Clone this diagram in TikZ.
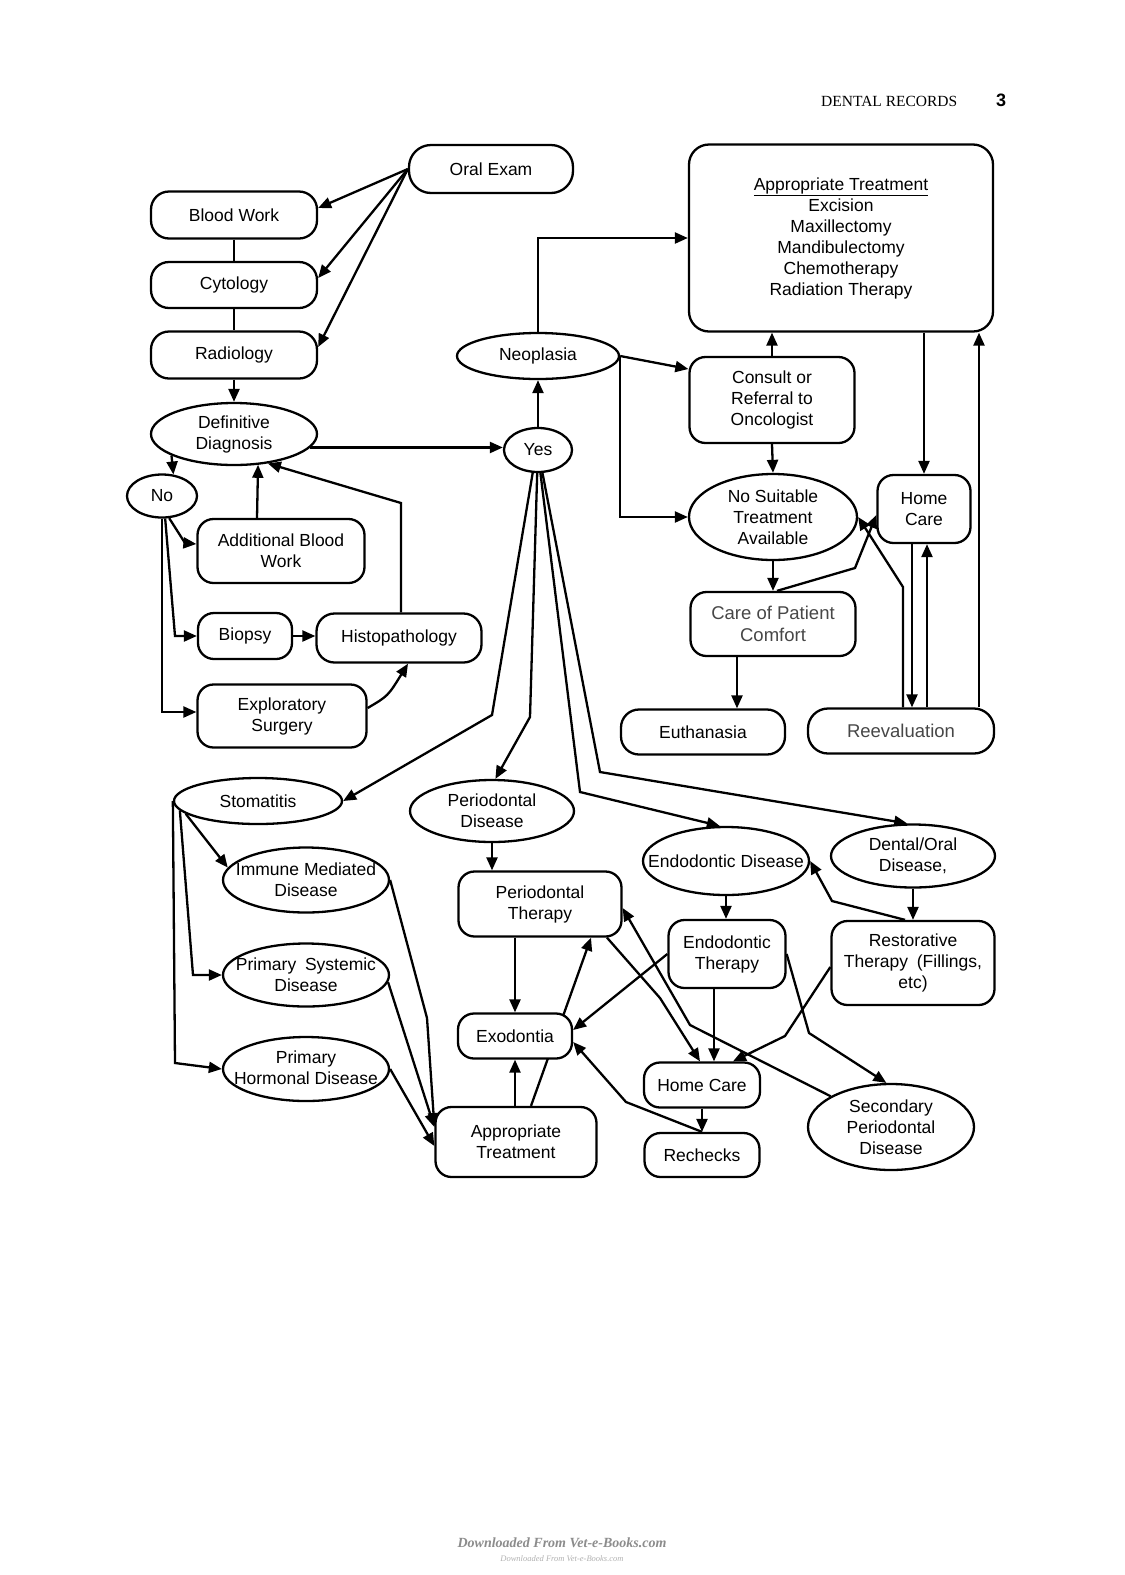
\documentclass[tikz,border=0pt]{standalone}
\usepackage{fontspec}
\setmainfont{Liberation Sans}
\newfontfamily\serifhdr{Liberation Serif}
\usetikzlibrary{arrows.meta,shapes.geometric,calc}
\pgfdeclarelayer{bg}
\pgfsetlayers{bg,main}
\newcommand\nfont{\fontsize{17.5}{21}\selectfont}
\newcommand\gfont{\fontsize{18.5}{22}\selectfont}
\begin{document}
\begin{tikzpicture}[x=1pt,y=-1pt,
  box/.style={draw, line width=2.3pt, rounded corners=16pt, fill=white, align=center, font=\nfont, inner sep=0pt},
  ell/.style={draw, ellipse, line width=2.3pt, fill=white, inner sep=0pt},
  txt/.style={align=center, font=\nfont, inner sep=0pt},
  gtxt/.style={text=black!72},
  arr/.style={line width=2.3pt, -{Triangle[length=13pt,width=11pt]}},
  ln/.style={line width=2.3pt}]
\useasboundingbox (0,0) rectangle (1125,1575);
\begin{pgfonlayer}{bg}
\fill[white] (0,0) rectangle (1125,1575);
\end{pgfonlayer}

% header
\node[anchor=base west, font=\serifhdr\fontsize{15.5}{18}\selectfont, inner sep=0pt] (hdr) at (821,106) {DENTAL RECORDS};
\node[anchor=base west, font=\bfseries\fontsize{18}{20}\selectfont, inner sep=0pt] (pg) at (996,106) {3};

% left column
\node[box, minimum width=164pt, minimum height=48pt, rounded corners=22pt] (oral) at (491,169) {Oral Exam};
\node[box, minimum width=166pt, minimum height=47pt, rounded corners=18pt] (blood) at (234,215) {Blood Work};
\node[box, minimum width=166pt, minimum height=46pt, rounded corners=18pt] (cyto) at (234,285) {Cytology};
\node[box, minimum width=166pt, minimum height=47pt, rounded corners=18pt] (radio) at (234,355) {Radiology};
\node[ell, minimum width=166pt, minimum height=62pt] (dd) at (234,434) {};
\node[txt] (ddT) at (dd) {Definitive\\Diagnosis};
\node[ell, minimum width=70pt, minimum height=43pt] (no) at (162,496) {};
\node[txt] (noT) at (no) {No};
\node[box, minimum width=167pt, minimum height=64pt] (abw) at (281,551) {Additional Blood\\Work};
\node[box, minimum width=94pt, minimum height=46pt] (biopsy) at (245,636) {Biopsy};
\node[box, minimum width=165pt, minimum height=49pt, rounded corners=18pt] (histo) at (399,638) {Histopathology};
\node[box, minimum width=169pt, minimum height=63pt] (explo) at (282,716) {Exploratory\\Surgery};

% center / right top
\node[ell, minimum width=68pt, minimum height=44pt] (yes) at (538,450) {};
\node[txt] (yesT) at (yes) {Yes};
\node[ell, minimum width=162pt, minimum height=46pt] (neo) at (538,356) {};
\node[txt] (neoT) at (neo) {Neoplasia};
\node[box, minimum width=304pt, minimum height=187pt, rounded corners=20pt] (apt) at (841,238) {\underline{Appropriate Treatment}\\Excision\\Maxillectomy\\Mandibulectomy\\Chemotherapy\\Radiation Therapy};
\node[box, minimum width=165pt, minimum height=86pt] (consult) at (772,400) {Consult or\\Referral to\\Oncologist};
\node[ell, minimum width=168pt, minimum height=86pt] (nosuit) at (773,517) {};
\node[txt] (nosuitT) at (nosuit) {No Suitable\\Treatment\\Available};
\node[box, minimum width=93pt, minimum height=68pt] (homec) at (924,509) {Home\\Care};
\node[box, minimum width=165pt, minimum height=64pt, font=\gfont, gtxt] (care) at (773,624) {Care of Patient\\Comfort};
\node[box, minimum width=164pt, minimum height=45pt, rounded corners=18pt] (euth) at (703,732) {Euthanasia};
\node[box, minimum width=186pt, minimum height=45pt, rounded corners=20pt, font=\gfont, gtxt] (reeval) at (901,731) {Reevaluation};

% lower left
\node[ell, minimum width=168pt, minimum height=46pt] (stoma) at (258,801) {};
\node[txt] (stomaT) at (stoma) {Stomatitis};
\node[ell, minimum width=166pt, minimum height=65pt] (imd) at (306,880) {};
\node[txt] (imdT) at (imd) {Immune Mediated\\Disease};
\node[ell, minimum width=166pt, minimum height=63pt] (psd) at (306,975) {};
\node[txt] (psdT) at (psd) {Primary\enspace Systemic\\Disease};
\node[ell, minimum width=166pt, minimum height=64pt] (phd) at (306,1069) {};
\node[txt] (phdT) at ([yshift=1pt]phd) {Primary\\Hormonal Disease};

% lower center / right
\node[ell, minimum width=164pt, minimum height=62pt] (pd) at (492,811) {};
\node[txt] (pdT) at (pd) {Periodontal\\Disease};
\node[box, minimum width=163pt, minimum height=65pt] (pt) at (540,904) {Periodontal\\Therapy};
\node[box, minimum width=114pt, minimum height=45pt] (exo) at (515,1036) {Exodontia};
\node[box, minimum width=161pt, minimum height=70pt] (at) at (516,1142) {Appropriate\\Treatment};
\node[ell, minimum width=166pt, minimum height=68pt] (endod) at (726,861) {};
\node[txt] (endodT) at (endod) {Endodontic Disease};
\node[ell, minimum width=164pt, minimum height=63pt] (dod) at (913,856) {};
\node[txt] (dodT) at (dod) {Dental/Oral\\Disease,};
\node[box, minimum width=117pt, minimum height=68pt] (endot) at (727,954) {Endodontic\\Therapy};
\node[box, minimum width=163pt, minimum height=84pt] (resto) at (913,963) {Restorative\\Therapy\enspace(Fillings,\\etc)};
\node[box, minimum width=116pt, minimum height=45pt] (hc2) at (702,1085) {Home Care};
\node[box, minimum width=115pt, minimum height=44pt] (rech) at (702,1155) {Rechecks};
\node[ell, minimum width=166pt, minimum height=86pt] (spd) at (891,1127) {};
\node[txt] (spdT) at (spd) {Secondary\\Periodontal\\Disease};

% watermark
\node[font=\serifhdr\itshape\bfseries\fontsize{14}{16}\selectfont, text=black!45, inner sep=0pt] (wm1) at (562,1543) {Downloaded From Vet-e-Books.com};
\node[font=\serifhdr\itshape\fontsize{8.5}{10}\selectfont, text=black!30, inner sep=0pt] (wm2) at (562,1559) {Downloaded From Vet-e-Books.com};

\begin{pgfonlayer}{bg}
\draw[arr] (oral.west) -- ([yshift=7pt]blood.east);
\draw[arr] (oral.west) -- ([yshift=7pt]cyto.east);
\draw[arr] (oral.west) -- ([yshift=8pt]radio.east);
\draw[ln] (blood.south) -- (cyto.north);
\draw[ln] (cyto.south) -- (radio.north);
\draw[arr] (radio.south) -- (dd.north);
\draw[arr] (dd.199) -- (no.62);
\draw[arr] (no.-72) -- (185,543) -- ([yshift=7pt]abw.west);
\draw[arr] (no.-82) -- (175,636) -- (biopsy.west);
\draw[arr] (no.south) -- (162,712) -- ([yshift=4pt]explo.west);
\draw[arr] ([xshift=-24pt]abw.north) -- (dd.-52);
\draw[arr] (biopsy.east) -- (biopsy.east -| histo.west);
\draw[arr] ([xshift=2pt]histo.north) -- (401,503) -- (dd.-41);
\draw[arr] ([yshift=8pt]explo.east) .. controls (388,696) .. ([xshift=9pt]histo.south);
\draw[arr] (dd.-10) -- (dd.-10 -| yes.west);

\draw[arr] (yes.north) -- (neo.south);
\draw[arr] (neo.north) |- (apt.west);
\draw[arr] (neo.east) -- ([yshift=31pt]consult.west);
\draw[arr] (neo.east) -- (neo.east |- nosuit.west) -- (nosuit.west);
\draw[arr] (consult.north) -- (consult.north |- apt.south);
\draw[arr] (consult.south) -- (nosuit.north);
\draw[arr] (apt.south -| homec.north) -- (homec.north);
\draw[arr] (nosuit.south) -- (care.north);
\draw[arr] ([xshift=4pt]care.north) -- (855,568) -- ([yshift=-6pt]homec.west);
\draw[arr] ([xshift=-36pt]care.south) -- ([xshift=34pt]euth.north);
\draw[arr] ([xshift=2pt]reeval.north) -- (903,587) -- (nosuit.east);
\draw[arr] ([xshift=-12pt]homec.south) -- ([xshift=11pt]reeval.north);
\draw[arr] ([xshift=26pt]reeval.north) -- ([xshift=3pt]homec.south);
\draw[arr] ([xshift=78pt]reeval.north) -- ([xshift=138pt]apt.south);

\draw[arr] (yes.-103) -- (492,715) -- (stoma.east);
\draw[arr] (yes.-92) -- (530,717) -- (pd.84);
\draw[arr] (yes.-84) -- (580,792) -- (endod.100);
\draw[arr] (yes.-79) -- (600,772) -- (dod.100);

\draw[arr] (pd.south) -- (pd.south |- pt.north);
\draw[arr] (pt.south -| exo.north) -- (exo.north);
\draw[arr] (at.north -| exo.south) -- (exo.south);
\draw[arr] ([xshift=15pt]at.north) -- ([xshift=51pt]pt.south);
\draw[arr] (endod.south) -- (endod.south |- endot.north);
\draw[arr] ([xshift=-13pt]endot.south) -- ([xshift=12pt]hc2.north);
\draw[arr] (endot.west) -- ([yshift=6pt]exo.east);
\draw[arr] (rech.north) -- (626,1102) -- ([yshift=-6pt]exo.east);
\draw[arr] (hc2.south) -- (rech.north);
\draw[arr] ([xshift=67pt]pt.south) -- (660,998) -- ([xshift=-2pt]hc2.north);
\draw[arr] (spd.153) -- (690,1025) -- ([yshift=-4pt]pt.east);
\draw[arr] (endot.east) -- (809,1033) -- (spd.96);
\draw[arr] ([yshift=-4pt]resto.west) -- (785,1036) -- ([xshift=31pt]hc2.north);
\draw[arr] ([xshift=-8pt]resto.north) -- (832,901) -- (endod.east);
\draw[arr] (dod.south) -- (resto.north);
\draw[arr] (stoma.-170) -- (imd.171);
\draw[arr] (stoma.-173) -- (193,975) -- (psd.west);
\draw[arr] (stoma.west) -- (175,1063) -- (phd.west);
\draw[arr] (imd.east) -- (427,1018) -- ([yshift=16pt]at.west);
\draw[arr] (psd.-5) -- ([yshift=15pt]at.west);
\draw[arr] (phd.east) -- ([yshift=-4pt]at.west);
\end{pgfonlayer}
\end{tikzpicture}
\end{document}
